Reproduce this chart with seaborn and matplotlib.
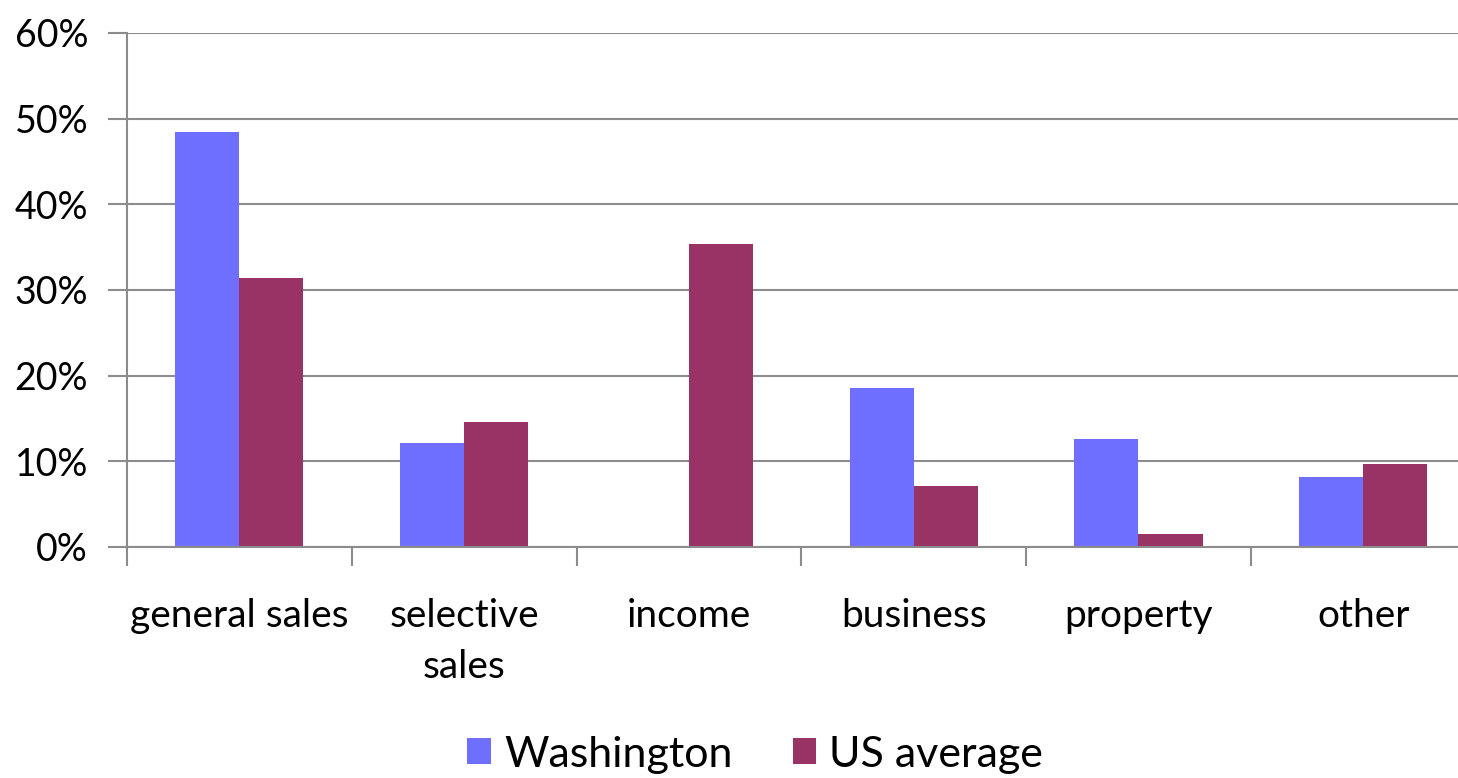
import pandas as pd
import numpy as np
import matplotlib.pyplot as plt
import seaborn as sns
from matplotlib.ticker import PercentFormatter

# Data
categories = ["general sales", "selective\nsales", "income", "business", "property", "other"]
washington = [48.4, 12.1, 0.0, 18.6, 12.6, 8.2]
us_average = [31.4, 14.6, 35.4, 7.1, 1.5, 9.7]
series = ["Washington", "US average"]
colors = ["#6F6FFF", "#993366"]

df = pd.DataFrame({
    "category": categories * 2,
    "value": washington + us_average,
    "series": [series[0]] * len(categories) + [series[1]] * len(categories),
})

sns.set_style("white")
plt.rcParams['font.family'] = ['Lato', 'DejaVu Sans']
plt.rcParams['text.color'] = 'black'
plt.rcParams['xtick.labelcolor'] = 'black'
plt.rcParams['ytick.labelcolor'] = 'black'

fig = plt.figure(figsize=(14.58, 7.78), dpi=100)
# axes runs slightly past the right edge of the figure, like the original
ax = fig.add_axes([0.0871, 0.297, 0.925, 0.6606])

sns.barplot(data=df, x="category", y="value", hue="series", palette=colors,
            width=0.57, saturation=1, linewidth=0, ax=ax, legend=True)

ax.set_ylim(0, 60)
ax.set_xlim(-0.5, len(categories) - 0.5)
ax.set_yticks(np.arange(0, 61, 10))
ax.yaxis.set_major_formatter(PercentFormatter(decimals=0))
ax.yaxis.grid(True, color="#8C8C8C", linewidth=1.5)
ax.set_axisbelow(True)
ax.set_xlabel("")
ax.set_ylabel("")

# category separators as minor ticks
ax.set_xticks(np.arange(len(categories)))
ax.set_xticklabels(categories)
ax.tick_params(axis="x", length=0, labelsize=28, pad=37, labelcolor="black")
ax.tick_params(axis="y", length=14, width=1.5, color="#8C8C8C", labelsize=27, pad=14,
               labelcolor="black")
ax.set_xticks(np.arange(len(categories) + 1) - 0.5, minor=True)
ax.tick_params(axis="x", which="minor", length=14, width=1.5, color="#8C8C8C")
ax.xaxis.set_tick_params(which="minor", direction="out")
ax.yaxis.set_tick_params(direction="out")
ax.xaxis.set_ticks_position("bottom")
ax.yaxis.set_ticks_position("left")
for lab in ax.get_xticklabels():
    lab.set_linespacing(1.5)
    lab.set_verticalalignment("top")

for side in ["top", "right"]:
    ax.spines[side].set_visible(False)
for side in ["left", "bottom"]:
    ax.spines[side].set_color("#8C8C8C")
    ax.spines[side].set_linewidth(1.5)

handles, labels = ax.get_legend_handles_labels()
ax.get_legend().remove()
fig.legend(handles, labels, loc="center", bbox_to_anchor=(0.518, 0.03), ncol=2,
           frameon=False, fontsize=31, handlelength=0.55, handleheight=0.55,
           handletextpad=0.3, columnspacing=1.4, borderaxespad=0, borderpad=0,
           labelcolor="black")

fig.savefig("out.png", dpi=100)
